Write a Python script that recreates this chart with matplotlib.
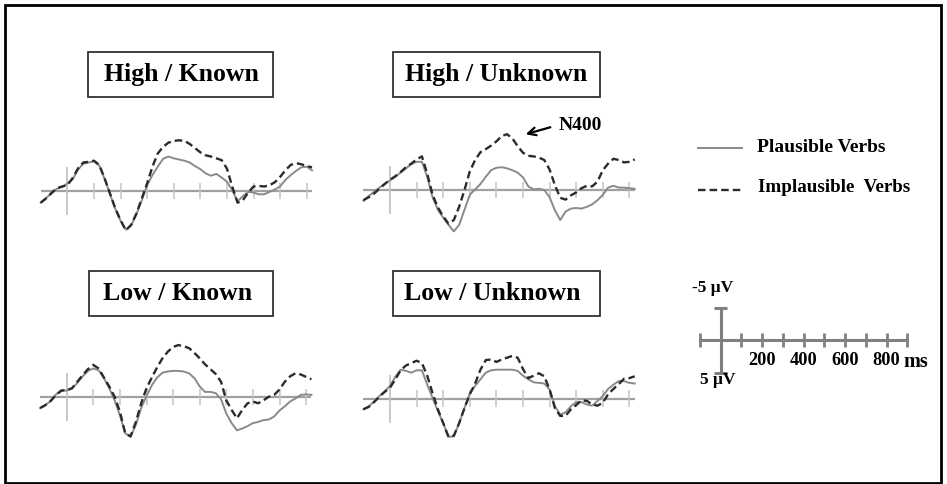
import matplotlib.pyplot as plt
import numpy as np
from matplotlib.patches import Rectangle
from matplotlib.lines import Line2D

W, H = 947, 484
SERIF = 'Liberation Serif'

# ERP time axis (ms) and amplitudes (uV, negative plotted up)
times = np.arange(-100, 921, 20)

high_known_plaus = [
    2.0, 1.2, 0.5, -0.3, -0.6, -1.2, -1.9, -3.5, -4.5, -4.7, -4.9, -4.2, -2.0,
    0.5, 3.0, 5.0, 6.5, 5.8, 3.9, 1.6, -0.9, -2.6, -4.0, -5.3, -5.7, -5.4,
    -5.2, -5.0, -4.7, -4.1, -3.6, -2.9, -2.5, -2.8, -2.2, -1.5, -0.1, 1.8, 0.9,
    0.2, 0.3, 0.6, 0.6, 0.2, -0.2, -0.7, -1.8, -2.6, -3.3, -3.9, -4.0, -3.4]
high_known_implaus = [
    2.0, 1.3, 0.4, -0.4, -0.7, -0.9, -2.1, -3.7, -4.7, -4.8, -5.0, -4.3, -2.1,
    0.4, 2.9, 4.9, 6.6, 5.7, 3.8, 1.3, -1.2, -4.0, -6.2, -7.3, -8.0, -8.3,
    -8.4, -8.3, -7.8, -7.1, -6.4, -5.9, -5.7, -5.4, -5.1, -3.7, -0.7, 2.0, 1.6,
    0.3, -0.7, -0.8, -0.7, -0.9, -1.4, -2.3, -3.4, -4.3, -4.6, -4.4, -4.1, -3.9]

high_unknown_plaus = [
    1.8, 1.0, 0.3, -0.4, -1.0, -1.6, -2.2, -2.9, -3.6, -4.3, -4.7, -4.7, -2.2,
    1.2, 3.3, 4.6, 5.8, 6.9, 5.8, 3.3, 0.8, -0.1, -1.0, -2.2, -3.3, -3.7,
    -3.8, -3.6, -3.3, -2.9, -2.1, -0.6, -0.1, -0.2, 0.0, 1.2, 3.4, 5.0, 3.6,
    3.1, 3.0, 3.1, 2.8, 2.4, 1.7, 0.8, -0.4, -0.7, -0.4, -0.4, -0.3, -0.2]
high_unknown_implaus = [
    1.7, 1.2, 0.6, -0.2, -1.0, -1.7, -2.3, -3.0, -3.8, -4.4, -5.1, -5.6, -2.7,
    0.8, 2.9, 4.4, 5.6, 5.0, 2.8, 0.0, -3.1, -5.0, -6.3, -6.8, -7.4, -8.1,
    -9.0, -9.3, -8.6, -7.3, -6.2, -5.7, -5.6, -5.4, -5.0, -3.4, -0.8, 1.3, 1.6,
    0.9, 0.4, -0.3, -0.7, -0.6, -1.4, -3.3, -4.4, -5.2, -5.0, -4.6, -4.7, -5.1]

low_known_plaus = [
    1.9, 1.4, 0.7, -0.4, -1.1, -1.0, -1.4, -2.3, -3.4, -4.3, -4.7, -4.4, -3.1,
    -1.4, 0.6, 3.1, 6.1, 6.7, 4.7, 1.9, -0.1, -1.9, -3.2, -4.0, -4.2, -4.3,
    -4.3, -4.2, -3.9, -3.1, -1.7, -0.8, -0.8, -0.6, 0.4, 2.8, 4.4, 5.6, 5.3,
    4.9, 4.4, 4.2, 3.9, 3.8, 3.3, 2.3, 1.6, 0.8, 0.3, -0.3, -0.4, -0.3]
low_known_implaus = [
    1.9, 1.4, 0.7, -0.3, -1.0, -1.1, -1.4, -2.5, -3.6, -4.6, -5.3, -4.7, -3.2,
    -1.7, 0.0, 2.5, 6.1, 6.6, 4.2, 1.1, -1.4, -3.2, -4.9, -6.4, -7.5, -8.3,
    -8.6, -8.4, -8.1, -7.3, -6.4, -5.4, -4.6, -3.8, -2.5, 0.6, 2.2, 3.6, 2.2,
    1.1, 0.8, 1.1, 0.6, 0.0, -0.3, -1.2, -2.5, -3.4, -3.9, -3.7, -3.3, -2.9]

low_unknown_plaus = [
    1.8, 1.3, 0.5, -0.4, -1.2, -2.1, -3.6, -4.8, -4.6, -4.3, -4.7, -4.7, -2.3,
    -0.1, 2.1, 4.1, 6.4, 6.3, 4.1, 1.6, -0.9, -2.1, -3.2, -4.3, -4.7, -4.8,
    -4.8, -4.8, -4.8, -4.6, -3.8, -3.2, -2.7, -2.6, -2.5, -1.5, 1.3, 2.7, 2.3,
    1.3, 0.6, 0.6, 1.0, 1.2, 0.4, -0.4, -1.6, -2.3, -2.9, -2.9, -2.6, -2.5]
low_unknown_implaus = [
    1.8, 1.4, 0.6, -0.3, -1.1, -1.8, -3.2, -4.7, -5.5, -5.9, -6.3, -5.9, -3.8,
    -0.9, 1.8, 4.1, 6.4, 6.2, 4.1, 1.6, -0.7, -2.5, -4.8, -6.4, -6.5, -6.1,
    -6.5, -6.8, -7.1, -6.8, -4.9, -3.4, -3.8, -4.2, -3.7, -1.5, 1.6, 2.9, 2.9,
    1.8, 1.1, 0.3, 0.4, 1.0, 1.2, 0.7, -0.7, -1.6, -2.4, -3.3, -3.4, -3.7]

titles = ['High / Known', 'High / Unknown', 'Low / Known', 'Low / Unknown']
plaus = [high_known_plaus, high_unknown_plaus, low_known_plaus, low_unknown_plaus]
implaus = [high_known_implaus, high_unknown_implaus, low_known_implaus, low_unknown_implaus]
tick_times = np.arange(0, 901, 100)

# layout in pixels: time-zero x, baseline y, title box (x0, y0, x1, y1), text centre
zero_px = [67.3, 390.0, 66.7, 390.0]
base_px = [190.7, 190.0, 396.7, 398.5]
boxes = [(88.3, 51.7, 273.3, 97.3), (393.3, 52.3, 600.0, 97.3),
         (89.0, 271.0, 273.3, 316.0), (393.3, 271.0, 600.0, 316.0)]
text_xy = [(181, 75), (496, 75), (177.5, 294), (492.5, 294)]
PX_MS = 0.266   # px per ms
PX_UV = 6.0     # px per uV
SOLID_C = '#8a8a8a'
DASH_C = '#2b2b2b'
DASH = (0, (3.2, 1.7))

fig = plt.figure(figsize=(W / 100, H / 100), dpi=100)


def fbox(x0, y0, x1, y1):
    return [x0 / W, 1 - y1 / H, (x1 - x0) / W, (y1 - y0) / H]


for i in range(4):
    x0 = zero_px[i] - 100 * PX_MS
    x1 = zero_px[i] + 920 * PX_MS
    y0 = base_px[i] - 11 * PX_UV
    y1 = base_px[i] + 8 * PX_UV
    ax = fig.add_axes(fbox(x0, y0, x1, y1))
    ax.set_xlim(-100, 920)
    ax.set_ylim(8, -11)
    ax.axis('off')
    ax.axhline(0, color='#a0a0a0', lw=1.6, zorder=1)
    ax.vlines(tick_times[1:], -1.35, 1.35, color='#c4c4c4', lw=1.1, zorder=1)
    ax.vlines([0], -4.0, 4.0, color='#c4c4c4', lw=1.3, zorder=1)
    ax.plot(times, plaus[i], color=SOLID_C, lw=1.4, zorder=2, clip_on=False)
    ax.plot(times, implaus[i], color=DASH_C, lw=1.7, ls=DASH, zorder=3, clip_on=False)

    bx0, by0, bx1, by1 = boxes[i]
    fig.add_artist(Rectangle((bx0 / W, 1 - by1 / H), (bx1 - bx0) / W, (by1 - by0) / H,
                             transform=fig.transFigure, fill=False,
                             edgecolor='#333333', lw=1.3))
    tx, ty = text_xy[i]
    fig.text(tx / W, 1 - ty / H, titles[i], ha='center', va='center',
             fontsize=18.5, fontweight='bold', family=SERIF)

# N400 annotation
fig.text(580 / W, 1 - 125 / H, 'N400', ha='center', va='center',
         fontsize=14, fontweight='bold', family=SERIF)
fig.add_artist(plt.Annotation('', xy=(523 / W, 1 - 135 / H), xytext=(553 / W, 1 - 126.5 / H),
                              xycoords='figure fraction', textcoords='figure fraction',
                              arrowprops=dict(arrowstyle='->', lw=1.6, color='black',
                                              mutation_scale=14)))

# legend
fig.add_artist(Line2D([698 / W, 742 / W], [1 - 148.3 / H] * 2, color=SOLID_C, lw=1.4))
fig.add_artist(Line2D([698 / W, 742 / W], [1 - 190 / H] * 2, color=DASH_C, lw=1.7, ls=DASH))
fig.text(757 / W, 1 - 148 / H, 'Plausible Verbs', ha='left', va='center',
         fontsize=14, fontweight='bold', family=SERIF)
fig.text(758 / W, 1 - 187 / H, 'Implausible  Verbs', ha='left', va='center',
         fontsize=13.7, fontweight='bold', family=SERIF)

# calibration cross
scale_times = np.arange(-100, 901, 100)
SB_MS = 0.2073
SB_UV = 6.5
sx0 = 700 - 50 * SB_MS
sx1 = 700 + 1050 * SB_MS
sax = fig.add_axes(fbox(sx0, 340 - 7 * SB_UV, sx1, 340 + 7 * SB_UV))
sax.set_xlim(-150, 950)
sax.set_ylim(7, -7)
sax.axis('off')
SB_C = '#808080'
sax.plot([-100, 900], [0, 0], color=SB_C, lw=2.2)
sax.vlines(scale_times, -1.15, 1.15, color=SB_C, lw=2.0)
sax.plot([0, 0], [-5, 5], color=SB_C, lw=2.2)
sax.hlines([-5, 5], -31, 31, color=SB_C, lw=2.2)
for t in [200, 400, 600, 800]:
    sax.text(t, 3.2, str(t), ha='center', va='center', fontsize=13.2,
             fontweight='bold', family=SERIF, clip_on=False)
sax.text(880, 3.4, 'ms', ha='left', va='center', fontsize=14.5,
         fontweight='bold', family=SERIF, clip_on=False)
sax.text(-38, -8.0, '-5 μV', ha='center', va='center', fontsize=12.5,
         fontweight='bold', family=SERIF, clip_on=False)
sax.text(-15, 6.2, '5 μV', ha='center', va='center', fontsize=12.5,
         fontweight='bold', family=SERIF, clip_on=False)

# outer frame
fig.add_artist(Rectangle((5 / W, 1 - 482.5 / H), 936 / W, 477.5 / H,
                         transform=fig.transFigure, fill=False,
                         edgecolor='black', lw=2.0))

fig.savefig('out.png', dpi=100)
